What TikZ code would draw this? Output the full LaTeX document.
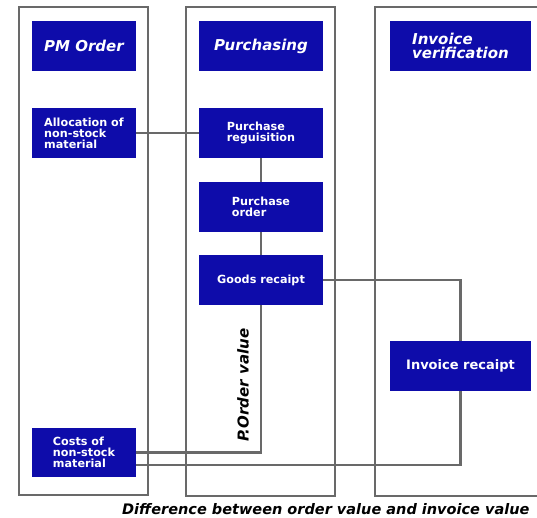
\documentclass[tikz,border=0pt]{standalone}
\usepackage{fontspec}
\setmainfont{DejaVu Sans}
\definecolor{boxblue}{RGB}{14,12,170}
\definecolor{linegray}{RGB}{105,105,105}
\begin{document}
\begin{tikzpicture}[x=1pt,y=-1pt,
  lane/.style={draw=linegray,line width=2.4pt},
  conn/.style={draw=linegray,line width=2.4pt},
  bluebox/.style={rectangle,fill=boxblue,text=white,inner sep=0pt,align=left,
    font=\fontsize{11.2}{11}\selectfont\bfseries},
  headbox/.style={bluebox,font=\fontsize{15}{14.5}\selectfont\bfseries\itshape},
  lbl/.style={inner sep=0pt,font=\fontsize{15}{15}\selectfont\bfseries\itshape}]
\useasboundingbox (0,0) rectangle (537,517);
\clip (0,0) rectangle (537,517);
% lanes
\draw[lane] (19,7) rectangle (148,495);
\draw[lane] (186,7) rectangle (335,496);
\draw[lane] (575,7) -- (375,7) -- (375,496) -- (575,496);
% boxes
\node[headbox,minimum width=104pt,minimum height=50pt] (pmh) at (84,46) {PM Order};
\node[headbox,minimum width=124pt,minimum height=50pt] (purh) at (261,46) {Purchasing};
\node[headbox,minimum width=141pt,minimum height=50pt] (invh) at (460.5,46) {Invoice\\verification};
\node[bluebox,minimum width=104pt,minimum height=50pt] (alloc) at (84,133) {Allocation of\\non-stock\\material};
\node[bluebox,minimum width=124pt,minimum height=50pt] (preq) at (261,133) {Purchase\\reguisition};
\node[bluebox,minimum width=124pt,minimum height=50pt] (po) at (261,207) {Purchase\\order};
\node[bluebox,minimum width=124pt,minimum height=50pt] (gr) at (261,280) {Goods recaipt};
\node[bluebox,minimum width=104pt,minimum height=49pt] (costs) at (84,452.5) {Costs of\\non-stock\\material};
\node[bluebox,minimum width=141pt,minimum height=50pt,font=\fontsize{13}{13}\selectfont\bfseries] (inv) at (460.5,366) {Invoice recaipt};
% connectors
\draw[conn] (alloc.east) -- (preq.west);
\draw[conn] (preq.south) -- (po.north);
\draw[conn] (po.south) -- (gr.north);
\draw[conn] (gr.south) |- (costs.east);
\draw[conn] (gr.east) -| (inv.north);
\draw[conn] ([yshift=-12.5pt]costs.east) -| (inv.south);
% labels
\node[lbl,rotate=90] (pov) at (243,385) {P.Order value};
\node[lbl,anchor=base west,font=\fontsize{14.5}{14.5}\selectfont\bfseries\itshape] (diff) at (122,514) {Difference between order value and invoice value};
\end{tikzpicture}
\end{document}
